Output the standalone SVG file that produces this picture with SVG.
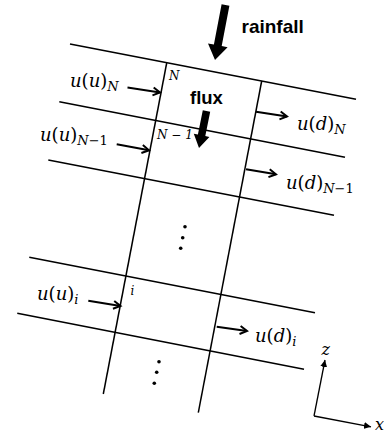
<svg xmlns="http://www.w3.org/2000/svg" width="384" height="437" viewBox="0 0 384 437">
<defs>
<marker id="open" markerUnits="userSpaceOnUse" markerWidth="12" markerHeight="12" refX="8.5" refY="5" orient="auto" viewBox="0 0 12 10">
<path d="M1.5,1 L8.5,5 L1.5,9" fill="none" stroke="#000" stroke-width="2"/>
</marker>
<marker id="tri" markerUnits="userSpaceOnUse" markerWidth="8" markerHeight="8" refX="7" refY="3.5" orient="auto" viewBox="0 0 8 7">
<path d="M0,0 L7,3.5 L0,7 Z" fill="#000"/>
</marker>
</defs>
<style>
.grid{stroke:#000;stroke-width:1.5;fill:none}
.flow{stroke:#000;stroke-width:2;fill:none;marker-end:url(#open)}
.axis{stroke:#000;stroke-width:1.3;fill:none;marker-end:url(#tri)}
.math{font-family:"DejaVu Serif","Liberation Serif",serif;font-style:italic;font-size:18px;fill:#000}
.up{font-style:normal}
.sub{font-size:13px}
.small{font-family:"DejaVu Serif","Liberation Serif",serif;font-style:italic;font-size:12px;fill:#000}
.bold{font-family:"Liberation Sans",Arial,sans-serif;font-weight:bold;font-size:19px;fill:#000}
</style>
<rect width="384" height="437" fill="#fff"/>
<g id="grid">
<line class="grid" x1="70" y1="44" x2="356" y2="99.3"/>
<line class="grid" x1="59.3" y1="101.7" x2="345" y2="157.3"/>
<line class="grid" x1="48.3" y1="160" x2="334" y2="215.3"/>
<line class="grid" x1="29.3" y1="257.3" x2="315" y2="312.7"/>
<line class="grid" x1="17.3" y1="313.3" x2="304" y2="369.3"/>
<line class="grid" x1="166.7" y1="63" x2="103.3" y2="394"/>
<line class="grid" x1="261.7" y1="81" x2="198.3" y2="412.7"/>
</g>
<g id="connectors">
<line class="flow" x1="127.5" y1="87.5" x2="160" y2="92.5"/>
<line class="flow" x1="116.7" y1="144.3" x2="149" y2="150.3"/>
<line class="flow" x1="256" y1="111.7" x2="287" y2="116.5"/>
<line class="flow" x1="246" y1="169.3" x2="276" y2="174.3"/>
<line class="flow" x1="88.3" y1="300.7" x2="120.5" y2="306"/>
<line class="flow" x1="216.7" y1="326.7" x2="247" y2="331"/>
<line class="axis" x1="314" y1="416" x2="325" y2="360"/>
<line class="axis" x1="314" y1="416" x2="371" y2="426.8"/>
</g>
<g id="rainfall">
<polygon points="221.6,4.25 229.4,5.75 221.7,46.05 227.6,47.2 215,60 208,43.4 213.9,44.55" fill="#000"/>
<text class="bold" x="241.5" y="33">rainfall</text>
</g>
<g id="flux">
<polygon points="202.8,110.25 210.2,111.75 205.3,136.05 209.4,136.9 199,148 193.8,133.7 197.9,134.55" fill="#000"/>
<text class="bold" x="190" y="104" style="font-size:18.5px">flux</text>
</g>
<g id="cell-N">
<text class="small" x="169" y="80">N</text>
</g>
<g id="cell-N-1">
<text class="small" x="157" y="139">N − 1</text>
</g>
<g id="cell-i">
<text class="small" x="130.5" y="295">i</text>
</g>
<g id="labels">
<text class="math" x="70" y="87">u<tspan class="up">(</tspan>u<tspan class="up">)</tspan><tspan class="sub" dy="4">N</tspan></text>
<text class="math" x="40" y="141">u<tspan class="up">(</tspan>u<tspan class="up">)</tspan><tspan class="sub" dy="4">N<tspan class="up">−1</tspan></tspan></text>
<text class="math" x="297" y="130">u<tspan class="up">(</tspan>d<tspan class="up">)</tspan><tspan class="sub" dy="4">N</tspan></text>
<text class="math" x="286" y="189">u<tspan class="up">(</tspan>d<tspan class="up">)</tspan><tspan class="sub" dy="4">N<tspan class="up">−1</tspan></tspan></text>
<text class="math" x="37" y="300">u<tspan class="up">(</tspan>u<tspan class="up">)</tspan><tspan class="sub" dy="4">i</tspan></text>
<text class="math" x="255" y="342">u<tspan class="up">(</tspan>d<tspan class="up">)</tspan><tspan class="sub" dy="4">i</tspan></text>
<text class="math" x="321.5" y="355" style="font-size:16px">z</text>
<text class="math" x="375" y="430" style="font-size:16px">x</text>
</g>
<g id="dots" fill="#000">
<circle cx="185" cy="226.7" r="1.8"/>
<circle cx="182.7" cy="237.7" r="1.8"/>
<circle cx="180.7" cy="248.3" r="1.8"/>
<circle cx="159" cy="361.7" r="1.8"/>
<circle cx="156.7" cy="372.3" r="1.8"/>
<circle cx="154.3" cy="383.3" r="1.8"/>
</g>
</svg>
